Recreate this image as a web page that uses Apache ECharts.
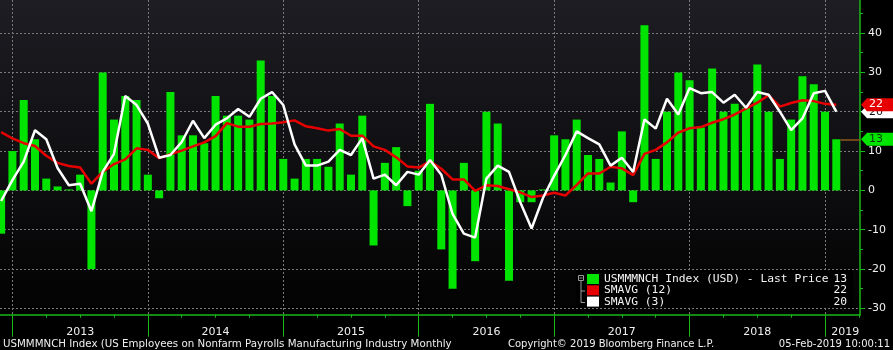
<!DOCTYPE html>
<html>
<head>
<meta charset="utf-8">
<script src="https://cdn.jsdelivr.net/npm/echarts@6/dist/echarts.min.js"></script>
<style>
  html, body { margin: 0; padding: 0; background: #000; }
  #chart { width: 893px; height: 350px; }
</style>
</head>
<body>
<div id="chart"></div>
<script>
// Monthly observations (month-end), Nov 2012 .. Jan 2019
const months = [
  '2012-11', '2012-12',
  '2013-01', '2013-02', '2013-03', '2013-04', '2013-05', '2013-06', '2013-07', '2013-08', '2013-09', '2013-10', '2013-11', '2013-12',
  '2014-01', '2014-02', '2014-03', '2014-04', '2014-05', '2014-06', '2014-07', '2014-08', '2014-09', '2014-10', '2014-11', '2014-12',
  '2015-01', '2015-02', '2015-03', '2015-04', '2015-05', '2015-06', '2015-07', '2015-08', '2015-09', '2015-10', '2015-11', '2015-12',
  '2016-01', '2016-02', '2016-03', '2016-04', '2016-05', '2016-06', '2016-07', '2016-08', '2016-09', '2016-10', '2016-11', '2016-12',
  '2017-01', '2017-02', '2017-03', '2017-04', '2017-05', '2017-06', '2017-07', '2017-08', '2017-09', '2017-10', '2017-11', '2017-12',
  '2018-01', '2018-02', '2018-03', '2018-04', '2018-05', '2018-06', '2018-07', '2018-08', '2018-09', '2018-10', '2018-11', '2018-12',
  '2019-01'
];

// Monthly change in manufacturing payrolls (thousands)
const payrolls = [
  -11, 10,
  23, 13, 3, 1, 0, 4, -20, 30, 18, 24, 23, 4,
  -2, 25, 14, 14, 12, 24, 19, 19, 18, 33, 24, 8,
  3, 8, 8, 6, 17, 4, 19, -14, 7, 11, -4, 5,
  22, -15, -25, 7, -18, 20, 17, -23, -3, -3, 0, 14,
  13, 18, 9, 8, 2, 15, -3, 42, 8, 20, 30, 28,
  16, 31, 20, 22, 21, 32, 20, 8, 18, 29, 27, 20,
  13
];

// 12-month simple moving average
const sma12 = [
  14.8, 13.2,
  12.0, 11.3, 8.8, 7.0, 6.2, 5.8, 1.7, 4.7, 6.7, 7.9, 10.7, 10.3,
  8.2, 9.2, 10.1, 11.2, 12.2, 13.8, 17.1, 16.2, 16.2, 16.9, 17.0, 17.3,
  17.8, 16.3, 15.8, 15.2, 15.6, 13.9, 13.9, 11.2, 10.3, 8.4, 6.1, 5.8,
  7.4, 5.5, 2.8, 2.8, -0.1, 1.3, 1.1, 0.3, -0.5, -1.7, -1.3, -0.6,
  -1.3, 1.4, 4.3, 4.3, 6.0, 5.6, 3.9, 9.3, 10.3, 12.2, 14.7, 15.8,
  16.1, 17.2, 18.1, 19.3, 20.8, 22.3, 24.2, 21.3, 22.2, 22.9, 22.7, 22.0,
  21.8
];

// 3-month simple moving average
const sma3 = [
  -2.7, 2.6,
  7.3, 15.3, 13.0, 5.7, 1.3, 1.7, -5.3, 4.7, 9.3, 24.0, 21.7, 17.0,
  8.3, 9.0, 12.3, 17.7, 13.3, 16.7, 18.3, 20.7, 18.7, 23.3, 25.0, 21.7,
  11.7, 6.3, 6.3, 7.3, 10.3, 9.0, 13.3, 3.0, 4.0, 1.3, 4.7, 4.0,
  7.7, 4.0, -6.0, -11.0, -12.0, 3.0, 6.3, 4.7, -3.0, -9.7, -2.0, 3.7,
  9.0, 15.0, 13.3, 11.7, 6.3, 8.3, 4.7, 18.0, 15.7, 23.3, 19.3, 26.0,
  24.7, 25.0, 22.3, 24.3, 21.0, 25.0, 24.3, 20.0, 15.3, 18.3, 24.7, 25.3,
  20.0
];

const years = ['2013', '2014', '2015', '2016', '2017', '2018', '2019'];
const yTicks = [-30, -20, -10, 0, 10, 20, 30, 40];
const yMinorTicks = [-25, -15, -5, 5, 15, 25, 35, 45];

const BAR_NAME = 'USMMMNCH Index (USD) - Last Price';
const RED_NAME = 'SMAVG (12)';
const WHITE_NAME = 'SMAVG (3)';
const FOOTER_LEFT = 'USMMMNCH Index (US Employees on Nonfarm Payrolls Manufacturing Industry Monthly';
const FOOTER_MID = 'Copyright\u00a9 2019 Bloomberg Finance L.P.';
const FOOTER_RIGHT = '05-Feb-2019 10:00:11';

// ---- layout / style ----
const GREEN = '#00e400';
const RED = '#e60000';
const WHITE = '#ffffff';
const AXIS_GREEN = '#18b818';
const GRID_GREY = '#7a7a7a';
const FONT = '"DejaVu Sans", sans-serif';
const MONO = '"DejaVu Sans Mono", monospace';

// month axis coordinate: 0 = end of Dec 2012, one unit per month
const pos = m => { const [y, mo] = m.split('-').map(Number); return (y - 2012) * 12 + (mo - 12); };
const pts = arr => arr.map((v, k) => [pos(months[k]), v]);

const X_MIN = -1.1, X_MAX = 75.1;
const Y_MIN = -31.6, Y_MAX = 48.4;

const yearBounds = years.map(y => pos(y + '-01') - 1);           // 0, 12, ... 72
const quarterTicks = [];
yearBounds.forEach(b => { [3, 6, 9].forEach(q => { if (b + q < X_MAX) quarterTicks.push(b + q); }); });
const labelPos = yearBounds.map((b, k) => k < years.length - 1 ? b + 6 : 73.8);

const last = a => a[a.length - 1];
const lastLabel = {};
lastLabel[BAR_NAME] = String(Math.round(last(payrolls)));
lastLabel[RED_NAME] = String(Math.round(last(sma12)));
lastLabel[WHITE_NAME] = String(Math.round(last(sma3)));

const chart = echarts.init(document.getElementById('chart'));

chart.setOption({
  animation: false,
  backgroundColor: '#000',
  textStyle: { fontFamily: FONT },
  grid: {
    left: 0, right: 33, top: 0, bottom: 35.3,
    show: true, borderWidth: 0,
    backgroundColor: new echarts.graphic.LinearGradient(0, 0, 0, 1, [
      { offset: 0, color: '#1d1d23' },
      { offset: 1, color: '#020202' }
    ])
  },
  xAxis: [
    {
      type: 'value', min: X_MIN, max: X_MAX, position: 'bottom',
      axisLine: { show: true, onZero: false, lineStyle: { color: AXIS_GREEN, width: 1.5 } },
      axisTick: { show: true, customValues: yearBounds, length: 22, lineStyle: { color: AXIS_GREEN, width: 1 } },
      axisLabel: {
        customValues: labelPos, color: '#f0f0f0', fontSize: 11, fontFamily: FONT, margin: 12,
        formatter: v => years[Math.min(years.length - 1, Math.floor(v / 12))]
      },
      splitLine: { show: true, lineStyle: { color: GRID_GREY, width: 1, type: [2, 2] } }
    },
    {
      type: 'value', min: X_MIN, max: X_MAX, position: 'bottom', offset: 0,
      axisLine: { show: false, onZero: false },
      axisTick: { show: true, customValues: quarterTicks, length: 3, lineStyle: { color: AXIS_GREEN } },
      axisLabel: { show: false },
      splitLine: { show: false }
    }
  ],
  yAxis: [
    {
      type: 'value', position: 'right', min: Y_MIN, max: Y_MAX,
      axisLine: { show: true, onZero: false, lineStyle: { color: AXIS_GREEN, width: 1.5 } },
      axisTick: { show: true, customValues: yTicks, length: 5, lineStyle: { color: AXIS_GREEN } },
      axisLabel: { customValues: yTicks, color: '#f0f0f0', fontSize: 11, fontFamily: FONT, margin: 8 },
      splitLine: { show: true, lineStyle: { color: GRID_GREY, width: 1, type: [2, 2] } }
    },
    {
      type: 'value', position: 'right', offset: 0, min: Y_MIN, max: Y_MAX,
      axisLine: { show: false, onZero: false },
      axisTick: { show: true, customValues: yMinorTicks, length: 3, lineStyle: { color: AXIS_GREEN } },
      axisLabel: { show: false },
      splitLine: { show: false }
    }
  ],
  legend: {
    orient: 'vertical', left: 576, top: 270,
    padding: [3.5, 6, 0, 11], itemGap: 0.3,
    itemWidth: 12, itemHeight: 10, icon: 'rect',
    backgroundColor: '#000',
    selectedMode: false,
    data: [BAR_NAME, RED_NAME, WHITE_NAME],
    formatter: name => '{n|' + name + '}{v|' + lastLabel[name] + '}',
    textStyle: {
      color: '#f4f4f4', fontFamily: MONO, fontSize: 11.3, lineHeight: 11,
      rich: {
        n: { width: 226, color: '#f4f4f4', fontFamily: MONO, fontSize: 11.3, lineHeight: 11 },
        v: { width: 17, align: 'right', color: '#f4f4f4', fontFamily: MONO, fontSize: 11.3, lineHeight: 11 }
      }
    }
  },
  series: [
    {
      name: BAR_NAME, type: 'bar', xAxisIndex: 0, yAxisIndex: 0,
      data: pts(payrolls), barWidth: 8, barMinHeight: 1,
      itemStyle: { color: GREEN }, z: 2,
      markLine: {
        silent: true, symbol: 'none', label: { show: false },
        lineStyle: { color: '#8c5a1c', type: 'solid', width: 1.5 },
        data: [[{ coord: [pos(last(months)) + 0.36, last(payrolls)] }, { coord: [X_MAX, last(payrolls)] }]]
      }
    },
    {
      name: RED_NAME, type: 'line', xAxisIndex: 0, yAxisIndex: 0,
      data: pts(sma12), showSymbol: false, symbol: 'none',
      lineStyle: { color: RED, width: 2.5 }, itemStyle: { color: RED }, z: 3
    },
    {
      name: WHITE_NAME, type: 'line', xAxisIndex: 0, yAxisIndex: 0,
      data: pts(sma3), showSymbol: false, symbol: 'none',
      lineStyle: { color: WHITE, width: 2.5 }, itemStyle: { color: WHITE }, z: 4
    }
  ]
});

// value tags on the right-hand axis, plus legend tree and footer
function tag(value, fill, textFill, z) {
  const y = chart.convertToPixel({ yAxisIndex: 0 }, value);
  return [
    {
      type: 'polygon', z: z, silent: true,
      shape: { points: [[861, y], [867, y - 6.5], [893, y - 6.5], [893, y + 6.5], [867, y + 6.5]] },
      style: { fill: fill }
    },
    {
      type: 'text', z: z + 1, silent: true, x: 869, y: y,
      style: { text: String(Math.round(value)), fill: textFill, fontSize: 11, fontFamily: FONT, verticalAlign: 'middle', align: 'left' }
    }
  ];
}

const treeColor = '#9a9a9a';
const graphics = [].concat(
  tag(last(sma3), WHITE, '#111', 100),
  tag(last(sma12), RED, '#ffffff', 110),
  tag(last(payrolls), GREEN, '#0b3a0b', 120),
  [
    { type: 'rect', z: 200, silent: true, shape: { x: 578.5, y: 275.5, width: 5, height: 5 }, style: { fill: 'none', stroke: treeColor, lineWidth: 1 } },
    { type: 'line', z: 200, silent: true, shape: { x1: 579.5, y1: 278, x2: 582.5, y2: 278 }, style: { stroke: treeColor, lineWidth: 1 } },
    { type: 'line', z: 200, silent: true, shape: { x1: 581, y1: 281, x2: 581, y2: 302.5 }, style: { stroke: treeColor, lineWidth: 1 } },
    { type: 'line', z: 200, silent: true, shape: { x1: 581, y1: 291, x2: 585, y2: 291 }, style: { stroke: treeColor, lineWidth: 1 } },
    { type: 'line', z: 200, silent: true, shape: { x1: 581, y1: 302.5, x2: 585, y2: 302.5 }, style: { stroke: treeColor, lineWidth: 1 } },
    { type: 'text', z: 200, silent: true, x: 3, y: 344, style: { text: FOOTER_LEFT, fill: '#f0f0f0', fontSize: 10.25, fontFamily: FONT, verticalAlign: 'middle', align: 'left' } },
    { type: 'text', z: 200, silent: true, x: 508, y: 344, style: { text: FOOTER_MID, fill: '#f0f0f0', fontSize: 10, fontFamily: FONT, verticalAlign: 'middle', align: 'left' } },
    { type: 'text', z: 200, silent: true, x: 890, y: 344, style: { text: FOOTER_RIGHT, fill: '#f0f0f0', fontSize: 10, fontFamily: FONT, verticalAlign: 'middle', align: 'right' } }
  ]
);
chart.setOption({ graphic: graphics });
</script>
</body>
</html>
